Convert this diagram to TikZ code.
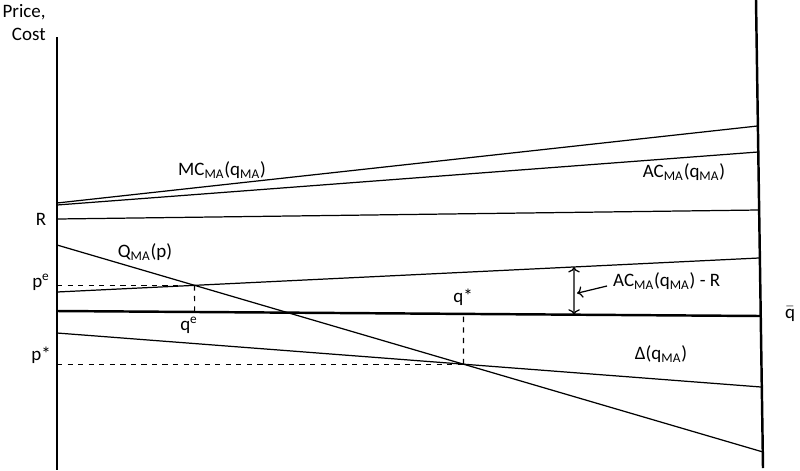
\documentclass[tikz,border=0pt]{standalone}
\usepackage{fontspec}
\setmainfont{Carlito}
\usetikzlibrary{arrows.meta,calc}
\newcommand{\MA}{\textsubscript{MA}}
\begin{document}
\begin{tikzpicture}[x=0.02cm,y=-0.02cm,font=\fontsize{10.8}{13}\selectfont]
      \useasboundingbox (0,0) rectangle (800,470);
      % end points
      \coordinate (ytop) at (57,37);
      \coordinate (ybot) at (57,470);
      \coordinate (qbtop) at (756,0);
      \coordinate (qbbot) at (763,468);
      \coordinate (mca) at (57,203);
      \coordinate (mcb) at (757.5,126);
      \coordinate (aca) at (57,205);
      \coordinate (acb) at (758,152);
      \coordinate (ra) at (57,219);
      \coordinate (rb) at (759,210);
      \coordinate (qa) at (57,245);
      \coordinate (qb) at (763,452);
      \coordinate (acra) at (57,292);
      \coordinate (acrb) at (759,258);
      \coordinate (xa) at (57,311);
      \coordinate (xb) at (760,316);
      \coordinate (da) at (57,333);
      \coordinate (db) at (761,387);
      \coordinate (pe) at (intersection of qa--qb and acra--acrb);
      \coordinate (ps) at (intersection of qa--qb and da--db);
      \coordinate (pedn) at ($(pe)+(0,50)$);
      \coordinate (psup) at ($(ps)+(0,-80)$);
      \coordinate (gtop) at (574,200);
      \coordinate (gbot) at (574,400);
      \coordinate (qe) at (intersection of pe--pedn and xa--xb);
      \coordinate (qs) at (intersection of ps--psup and xa--xb);
      \coordinate (gapt) at (intersection of gtop--gbot and acra--acrb);
      \coordinate (gapb) at (intersection of gtop--gbot and xa--xb);
      \coordinate (gapm) at ($(gapt)!0.55!(gapb)+(3,0)$);
      \coordinate (gapl) at (607,286);
      % lines
      \begin{scope}[every edge/.style={draw=black,line width=0.7pt}]
        \path (mca) edge (mcb);
        \path (aca) edge (acb);
        \path (ra) edge (rb);
        \path (qa) edge (qb);
        \path (acra) edge (acrb);
        \path (da) edge (db);
      \end{scope}
      \begin{scope}[every edge/.style={draw=black,line width=1.4pt}]
        \path (ytop) edge (ybot);
        \path (qbtop) edge (qbbot);
        \path (xa) edge (xb);
      \end{scope}
      \begin{scope}[every edge/.style={draw=black,line width=0.7pt,dashed}]
        \path (pe -| ytop) edge (pe);
        \path (pe) edge (qe);
        \path (ps -| ytop) edge (ps);
        \path (ps) edge (qs);
      \end{scope}
      \draw[line width=0.7pt,{To}-{To}] (gapt) -- (gapb);
      \draw[line width=0.7pt,-{To}] (gapl) -- (gapm);
      % labels
      \node[align=right,anchor=north east,inner sep=0pt] (price) at (46,4) {Price,\\ Cost};
      \node (rlab) at (41,219) {R};
      \node (pelab) at (41,282) {p\textsuperscript{e}};
      \node (pslab) at (41,355) {p*};
      \node (qelab) at (189,325) {q\textsuperscript{e}};
      \node (qslab) at (463,297) {q*};
      \node (mclab) at (222,170) {MC\MA(q\MA)};
      \node (aclab) at (684,172) {AC\MA(q\MA)};
      \node (qmalab) at (145,252) {Q\MA(p)};
      \node[anchor=west] (acrlab) at (607,281) {AC\MA(q\MA) - R};
      \node (dlab) at (661,354) {Δ(q\MA)};
      \node (qbar) at (790,314) {$\bar{\mbox{q}}$};
    \end{tikzpicture}
\end{document}
